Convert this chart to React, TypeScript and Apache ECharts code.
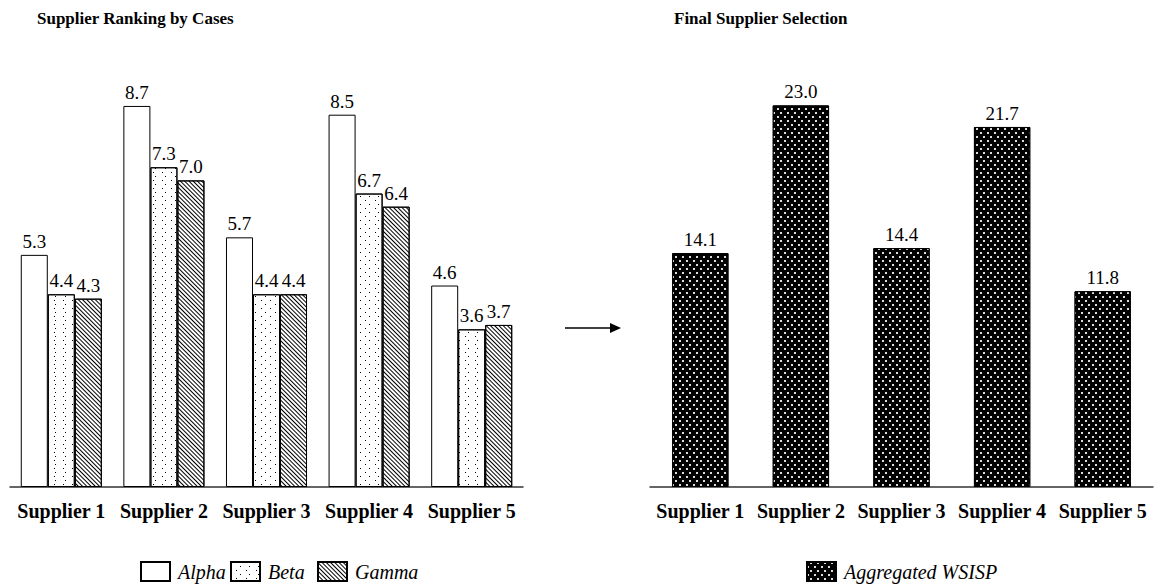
import React, { useEffect, useRef } from "react";
import * as echarts from "echarts";

const categories = ["Supplier 1", "Supplier 2", "Supplier 3", "Supplier 4", "Supplier 5"];
const alphaValues = [5.3, 8.7, 5.7, 8.5, 4.6];
const betaValues = [4.4, 7.3, 4.4, 6.7, 3.6];
const gammaValues = [4.3, 7.0, 4.4, 6.4, 3.7];
const aggregatedValues = [14.1, 23.0, 14.4, 21.7, 11.8];
const leftTitle = "Supplier Ranking by Cases";
const rightTitle = "Final Supplier Selection";

const FONT = "'Liberation Serif', 'Times New Roman', serif";

export default function App() {
  const ref = useRef<HTMLDivElement>(null);
  useEffect(() => {
    document.body.style.margin = "0";
    if (!ref.current) return;
    const chart = echarts.init(ref.current, null, { renderer: "svg" });
    const label = {
      show: true,
      position: "top",
      distance: 4,
      color: "#000",
      fontSize: 19,
      fontFamily: FONT,
      formatter: (p: any) => Number(p.value).toFixed(1),
    };
    const xAxisCommon = {
      type: "category",
      data: categories,
      axisTick: { show: false },
      axisLine: { show: true, lineStyle: { color: "#333", width: 1.5 } },
      axisLabel: { color: "#000", fontSize: 20, fontWeight: "bold", fontFamily: FONT, margin: 14, interval: 0 },
    };
    const legendCommon = {
      top: 561,
      padding: 0,
      itemWidth: 29,
      itemHeight: 19,
      icon: "rect",
      textStyle: { fontSize: 20, fontStyle: "italic", fontFamily: FONT, color: "#000", padding: [0, 0, 0, 3] },
    };
    const titleStyle = { fontSize: 17, fontWeight: "bold", fontFamily: FONT, color: "#000" };
    const option: any = {
      animation: false,
      backgroundColor: "#fff",
      title: [
        { text: leftTitle, left: 37, top: 10, padding: 0, textStyle: titleStyle },
        { text: rightTitle, left: 674, top: 10, padding: 0, textStyle: titleStyle },
      ],
      legend: [
        { ...legendCommon, data: ["Alpha"], left: 140 },
        { ...legendCommon, data: ["Beta"], left: 230 },
        { ...legendCommon, data: ["Gamma"], left: 317 },
        { ...legendCommon, data: ["Aggregated WSISP"], left: 806 },
      ],
      grid: [
        { left: 10, top: 49, width: 513, height: 438 },
        { left: 650, top: 49, width: 503, height: 438 },
      ],
      xAxis: [
        { ...xAxisCommon, gridIndex: 0 },
        { ...xAxisCommon, gridIndex: 1 },
      ],
      yAxis: [
        { type: "value", gridIndex: 0, min: 0, max: 10, show: false },
        { type: "value", gridIndex: 1, min: 0, max: 26.4, show: false },
      ],
      series: [
        {
          name: "Alpha",
          type: "bar",
          xAxisIndex: 0,
          yAxisIndex: 0,
          data: alphaValues,
          barGap: "0%",
          barCategoryGap: "21%",
          itemStyle: { color: "#fff", borderColor: "#000", borderWidth: 1 },
          label,
        },
        {
          name: "Beta",
          type: "bar",
          xAxisIndex: 0,
          yAxisIndex: 0,
          data: betaValues,
          barGap: "0%",
          barCategoryGap: "21%",
          itemStyle: {
            color: "#fff",
            borderColor: "#000",
            borderWidth: 1,
            decal: { symbol: "rect", symbolSize: 1, color: "#000", dashArrayX: [[1, 8], [0, 4.5, 1, 3.5]], dashArrayY: [1, 3], rotation: 0 },
          },
          label,
        },
        {
          name: "Gamma",
          type: "bar",
          xAxisIndex: 0,
          yAxisIndex: 0,
          data: gammaValues,
          barGap: "0%",
          barCategoryGap: "21%",
          itemStyle: {
            color: "#fff",
            borderColor: "#000",
            borderWidth: 1,
            decal: { symbol: "rect", symbolSize: 1, color: "#000", dashArrayX: [1, 0], dashArrayY: [1, 1.8], rotation: Math.PI / 4 },
          },
          label,
        },
        {
          name: "Aggregated WSISP",
          type: "bar",
          xAxisIndex: 1,
          yAxisIndex: 1,
          data: aggregatedValues,
          barCategoryGap: "44%",
          itemStyle: {
            color: "#000",
            borderColor: "#000",
            borderWidth: 1,
            decal: { symbol: "rect", symbolSize: 1, color: "#dcdcdc", dashArrayX: [[1.5, 4.5], [0, 3, 1.5, 1.5]], dashArrayY: [1.5, 1.5], rotation: 0 },
          },
          label,
        },
      ],
      graphic: [
        { type: "line", shape: { x1: 565, y1: 328, x2: 612, y2: 328 }, style: { stroke: "#000", lineWidth: 1.5 } },
        { type: "polygon", shape: { points: [[610, 323], [621, 328], [610, 333]] }, style: { fill: "#000" } },
      ],
    };
    chart.setOption(option);
    return () => chart.dispose();
  }, []);
  return <div ref={ref} style={{ width: 1161, height: 584 }} />;
}
